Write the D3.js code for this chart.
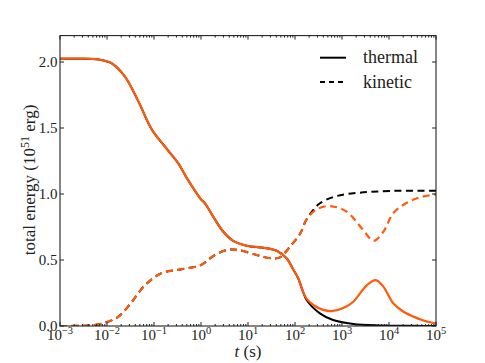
<!DOCTYPE html>
<html>
<head>
<meta charset="utf-8">
<script src="https://cdn.jsdelivr.net/npm/d3@7"></script>
<style>
  body { margin: 0; background: #fff; }
  svg { display: block; }
  text { font-family: "Liberation Serif", "DejaVu Serif", serif; fill: #222; }
</style>
</head>
<body>
<svg id="chart" width="485" height="363"></svg>
<script>
// ---- data (log10 of time in s, energy in 1e51 erg) ----
const thermalSharedLogT = [-3, -2.6, -2.2, -1.9, -1.62, -1.33, -1.05, -0.77, -0.48, -0.3, 0.0, 0.085, 0.26, 0.475, 0.69, 0.97, 1.33, 1.61, 1.82, 1.96, 2.07, 2.16];
const thermalShared     = [2.025, 2.025, 2.02, 1.99, 1.89, 1.70, 1.49, 1.36, 1.23, 1.12, 0.96, 0.929, 0.828, 0.714, 0.644, 0.608, 0.593, 0.570, 0.513, 0.43, 0.36, 0.27];
const thermalOrangeTailLogT = [2.25, 2.39, 2.6, 2.81, 3.05, 3.24, 3.53, 3.72, 3.88, 4.09, 4.3, 4.52, 4.75, 5.0];
const thermalOrangeTail     = [0.205, 0.159, 0.122, 0.114, 0.14, 0.184, 0.31, 0.348, 0.298, 0.172, 0.11, 0.071, 0.04, 0.018];
const thermalBlackTailLogT = [2.25, 2.53, 2.81, 3.24, 3.8, 4.5, 5.0];
const thermalBlackTail     = [0.195, 0.096, 0.045, 0.015, 0.004, 0.001, 0.0];

const kineticSharedLogT = [-3, -2.6, -2.4, -2.11, -1.76, -1.47, -1.19, -0.84, -0.41, 0.0, 0.26, 0.55, 0.79, 1.18, 1.50, 1.68, 1.89, 2.11];
const kineticShared     = [0.0, 0.001, 0.004, 0.018, 0.07, 0.184, 0.31, 0.40, 0.43, 0.462, 0.53, 0.576, 0.576, 0.538, 0.513, 0.52, 0.60, 0.70];
const kineticOrangeTailLogT = [2.25, 2.46, 2.74, 3.1, 3.45, 3.67, 3.88, 4.09, 4.38, 4.66, 5.0];
const kineticOrangeTail     = [0.81, 0.884, 0.909, 0.866, 0.727, 0.646, 0.714, 0.854, 0.934, 0.975, 0.998];
const kineticBlackTailLogT = [2.22, 2.36, 2.53, 2.89, 3.38, 4.02, 5.0];
const kineticBlackTail     = [0.79, 0.866, 0.93, 0.985, 1.01, 1.023, 1.025];

const yTicks = [0.0, 0.5, 1.0, 1.5, 2.0];
const xTickExps = [-3, -2, -1, 0, 1, 2, 3, 4, 5];
const legendLabels = ["thermal", "kinetic"];

// ---- layout ----
const svg = d3.select("#chart");
const pLeft = 60, pRight = 436, pTop = 35.6, pBottom = 326;
const ORANGE = "#ff5b0a";

const x = d3.scaleLog().domain([1e-3, 1e5]).range([pLeft, pRight]);
const y = d3.scaleLinear().domain([0, 2.2]).range([pBottom, pTop]);

function pts(logs, vals) { return logs.map((l, i) => ({ t: Math.pow(10, l), v: vals[i] })); }
const line = d3.line().x(d => x(d.t)).y(d => y(d.v)).curve(d3.curveCatmullRom.alpha(0.5));

const thermalBlack = pts(thermalSharedLogT.concat(thermalBlackTailLogT), thermalShared.concat(thermalBlackTail));
const thermalOrange = pts(thermalSharedLogT.concat(thermalOrangeTailLogT), thermalShared.concat(thermalOrangeTail));
const kineticBlack = pts(kineticSharedLogT.concat(kineticBlackTailLogT), kineticShared.concat(kineticBlackTail));
const kineticOrange = pts(kineticSharedLogT.concat(kineticOrangeTailLogT), kineticShared.concat(kineticOrangeTail));

const plot = svg.append("g");
plot.append("defs").append("clipPath").attr("id", "clip")
  .append("rect").attr("x", pLeft).attr("y", pTop).attr("width", pRight - pLeft).attr("height", pBottom - pTop);
const lines = plot.append("g").attr("clip-path", "url(#clip)");

const DASH = "7,4.5";
lines.append("path").datum(thermalBlack).attr("d", line).attr("fill", "none").attr("stroke", "#000").attr("stroke-width", 2);
lines.append("path").datum(kineticBlack).attr("d", line).attr("fill", "none").attr("stroke", "#000").attr("stroke-width", 2).attr("stroke-dasharray", DASH);
lines.append("path").datum(thermalOrange).attr("d", line).attr("fill", "none").attr("stroke", ORANGE).attr("stroke-width", 2.2);
lines.append("path").datum(kineticOrange).attr("d", line).attr("fill", "none").attr("stroke", ORANGE).attr("stroke-width", 2.2).attr("stroke-dasharray", DASH);

// ---- axes (ticks inward on all sides) ----
const tickVal = e => Math.pow(10, e);
const minorTicks = [];
for (let e = -3; e < 5; e++) for (let k = 2; k <= 9; k++) minorTicks.push(k * Math.pow(10, e));

const axG = svg.append("g");
const majorLen = 4, minorLen = 2;
xTickExps.forEach(e => {
  const px = x(tickVal(e));
  axG.append("line").attr("x1", px).attr("x2", px).attr("y1", pBottom).attr("y2", pBottom - majorLen).attr("stroke", "#222");
  axG.append("line").attr("x1", px).attr("x2", px).attr("y1", pTop).attr("y2", pTop + majorLen).attr("stroke", "#222");
});
minorTicks.forEach(v => {
  const px = x(v);
  axG.append("line").attr("x1", px).attr("x2", px).attr("y1", pBottom).attr("y2", pBottom - minorLen).attr("stroke", "#222");
  axG.append("line").attr("x1", px).attr("x2", px).attr("y1", pTop).attr("y2", pTop + minorLen).attr("stroke", "#222");
});
yTicks.forEach(v => {
  const py = y(v);
  axG.append("line").attr("x1", pLeft).attr("x2", pLeft + majorLen).attr("y1", py).attr("y2", py).attr("stroke", "#222");
  axG.append("line").attr("x1", pRight).attr("x2", pRight - majorLen).attr("y1", py).attr("y2", py).attr("stroke", "#222");
});
axG.append("rect").attr("x", pLeft).attr("y", pTop).attr("width", pRight - pLeft).attr("height", pBottom - pTop)
  .attr("fill", "none").attr("stroke", "#222").attr("stroke-width", 1.1);

// y tick labels
yTicks.forEach(v => {
  svg.append("text").attr("x", 57.5).attr("y", y(v) + 5).attr("text-anchor", "end")
    .attr("font-size", 15).text(v.toFixed(1));
});
// x tick labels 10^e
xTickExps.forEach(e => {
  const t = svg.append("text").attr("x", x(tickVal(e))).attr("y", 340).attr("text-anchor", "middle").attr("font-size", 15);
  t.append("tspan").text("10");
  t.append("tspan").attr("dy", -6).attr("font-size", 10.5).text(e < 0 ? "\u2212" + (-e) : String(e));
});

// axis labels
const xl = svg.append("text").attr("x", 248).attr("y", 357).attr("text-anchor", "middle").attr("font-size", 17);
xl.append("tspan").attr("font-style", "italic").text("t");
xl.append("tspan").text(" (s)");

const yl = svg.append("text").attr("transform", "translate(35,180) rotate(-90)").attr("text-anchor", "middle").attr("font-size", 17);
yl.append("tspan").text("total energy (10");
yl.append("tspan").attr("dy", -6).attr("font-size", 12).text("51");
yl.append("tspan").attr("dy", 6).text(" erg)");

// legend
const legend = svg.append("g");
[57.7, 82].forEach((ly, i) => {
  legend.append("line").attr("x1", 320).attr("x2", 346).attr("y1", ly).attr("y2", ly)
    .attr("stroke", "#000").attr("stroke-width", 2).attr("stroke-dasharray", i === 1 ? "5,4" : null);
  legend.append("text").attr("x", 363).attr("y", ly + 5.5).attr("font-size", 18).text(legendLabels[i]);
});
</script>
</body>
</html>
